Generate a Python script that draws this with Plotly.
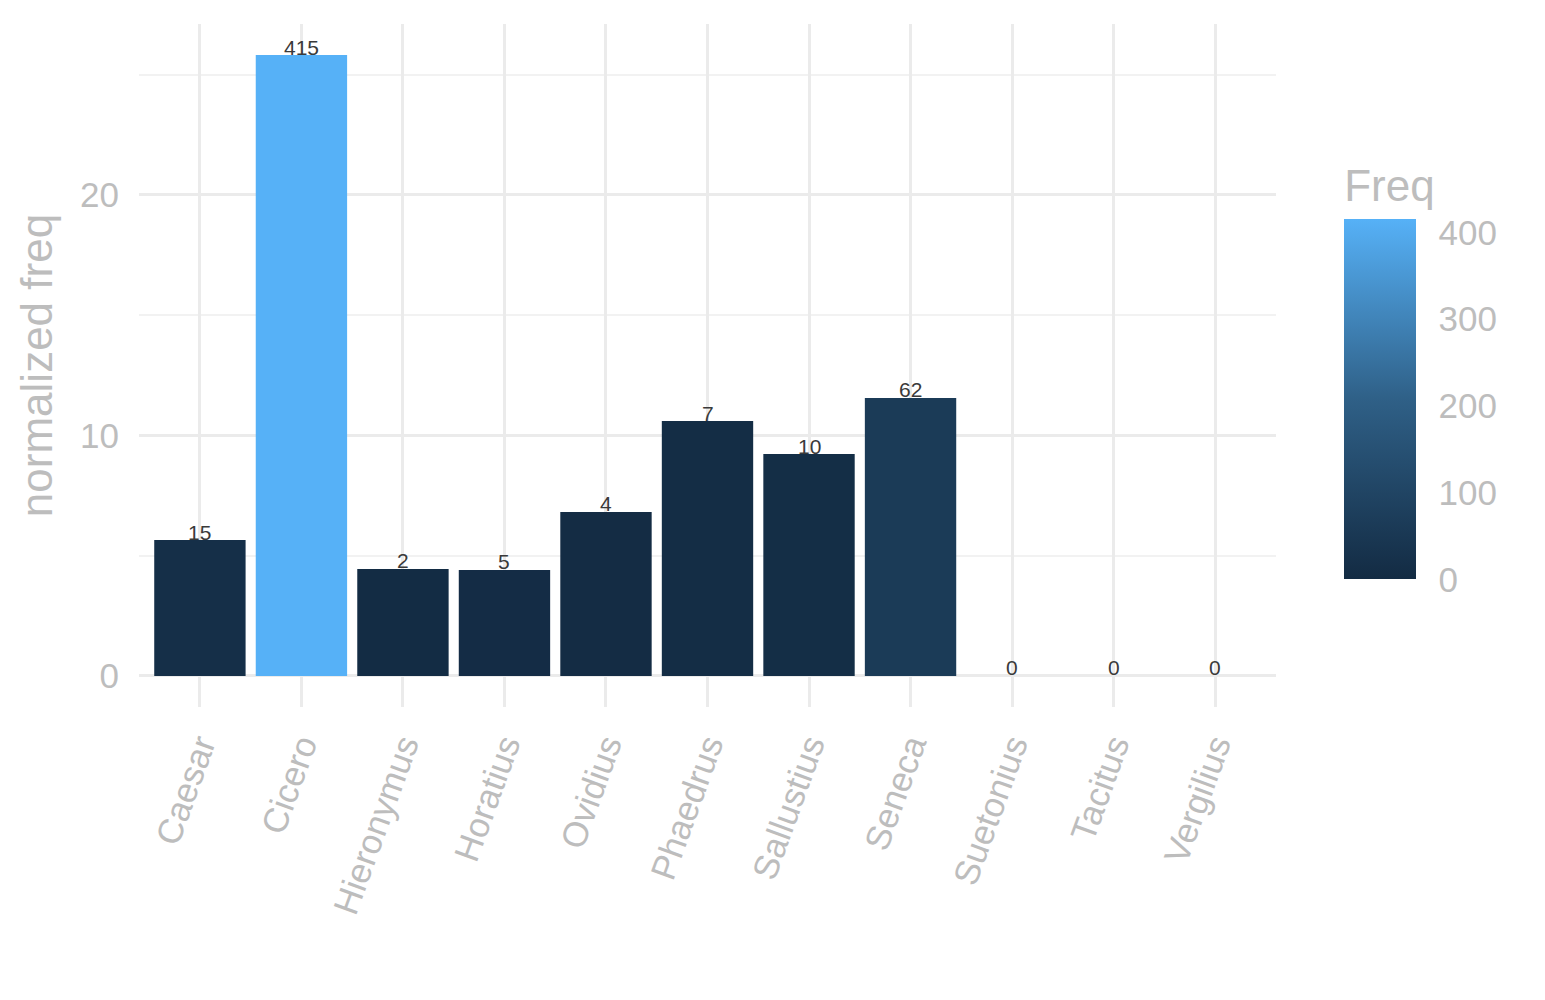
import plotly.graph_objects as go

# authors, normalized frequency (bar height) and raw frequency (colour + label)
authors = ["Caesar", "Cicero", "Hieronymus", "Horatius", "Ovidius", "Phaedrus",
           "Sallustius", "Seneca", "Suetonius", "Tacitus", "Vergilius"]
norm_freq = [5.65, 25.82, 4.45, 4.41, 6.82, 10.6, 9.23, 11.56, 0, 0, 0]
freq = [15, 415, 2, 5, 4, 7, 10, 62, 0, 0, 0]

grey = "#BDBDBD"
font = "Liberation Sans, Arial, sans-serif"

fig = go.Figure()

fig.add_trace(go.Bar(
    x=authors,
    y=norm_freq,
    width=0.9,
    marker=dict(
        color=freq,
        cmin=0,
        cmax=max(freq),
        colorscale=[[0, "#132B43"], [0.5, "#2F6087"], [1, "#56B1F7"]],
        line=dict(width=0),
        colorbar=dict(
            title=dict(text="Freq", side="top", font=dict(size=44, color=grey, family=font)),
            x=1.06, xanchor="left",
            y=0.187, yanchor="bottom",
            len=414, lenmode="pixels",
            thickness=72, thicknessmode="pixels",
            outlinewidth=0,
            # white ticks on white background: only used to push labels out
            ticks="outside", ticklen=16, tickcolor="white", tickwidth=1,
            tickvals=[0, 100, 200, 300, 400],
            tickfont=dict(size=35, color=grey, family=font),
            ypad=0, xpad=0,
        ),
    ),
    showlegend=False,
    hoverinfo="x+y",
))

# freq labels on top of each bar
for a, v, f in zip(authors, norm_freq, freq):
    fig.add_annotation(
        x=a, y=v, text=str(f), showarrow=False,
        yanchor="middle", yshift=8,
        font=dict(size=21, color="#3A3A3A", family=font),
    )

fig.update_layout(
    width=1545, height=1000,
    paper_bgcolor="white", plot_bgcolor="white",
    margin=dict(l=131, r=277, t=16, b=301),
    font=dict(family=font, color=grey),
    bargap=0.1,
)

fig.update_xaxes(
    range=[-0.6, 10.6],
    showgrid=True, gridcolor="#EBEBEB", gridwidth=3,
    showline=False, zeroline=False, ticks="",
    tickangle=-70,
    ticklabelstandoff=10,
    tickfont=dict(size=35, color=grey, family=font),
)

fig.update_yaxes(
    range=[-1.29, 27.11],
    tickvals=[0, 10, 20],
    showgrid=True, gridcolor="#EBEBEB", gridwidth=3,
    minor=dict(dtick=5, tick0=0, showgrid=True, gridcolor="#F2F2F2", gridwidth=2),
    zeroline=False, showline=False, ticks="",
    ticklabelstandoff=19,
    tickfont=dict(size=35, color=grey, family=font),
    title=dict(text="normalized freq", standoff=13,
               font=dict(size=44, color=grey, family=font)),
)

fig.write_html("out.html")
